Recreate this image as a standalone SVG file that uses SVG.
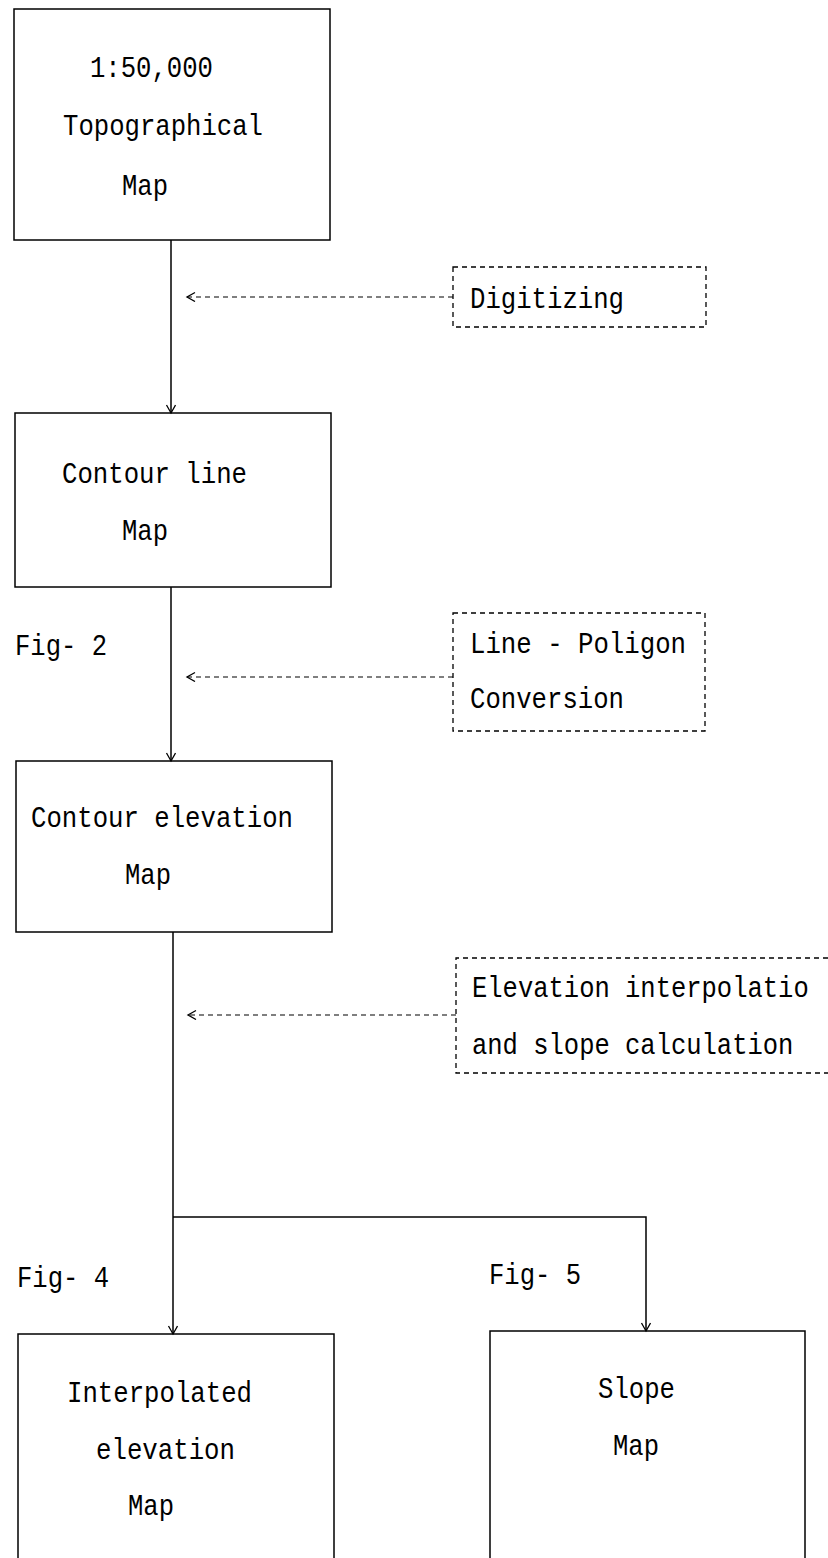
<svg xmlns="http://www.w3.org/2000/svg" width="828" height="1558" viewBox="0 0 828 1558">
<style>
.box{fill:none;stroke:#000;stroke-width:1.5}
.dbox{fill:none;stroke:#000;stroke-width:1.3;stroke-dasharray:5 4}
.ln{fill:none;stroke:#000;stroke-width:1.5}
.dln{fill:none;stroke:#000;stroke-width:1.2;stroke-dasharray:5 4}
.t{font-family:"Liberation Mono","DejaVu Sans Mono",monospace;font-size:29px;fill:#000}
</style>
<defs>
<marker id="ah" markerUnits="userSpaceOnUse" markerWidth="12" markerHeight="12" refX="9" refY="5" orient="auto">
<path d="M1,0.5 L9,5 L1,9.5" fill="none" stroke="#000" stroke-width="1.3"/>
</marker>
</defs>
<rect width="828" height="1558" fill="#fff"/>
<g id="connectors">
<line class="ln" x1="171" y1="240" x2="171" y2="413" marker-end="url(#ah)"/>
<line class="ln" x1="171" y1="587" x2="171" y2="761" marker-end="url(#ah)"/>
<line class="ln" x1="173" y1="932" x2="173" y2="1334" marker-end="url(#ah)"/>
<polyline class="ln" points="173,1217 646,1217 646,1331" marker-end="url(#ah)"/>
<line class="dln" x1="453" y1="297" x2="187" y2="297" marker-end="url(#ah)"/>
<line class="dln" x1="453" y1="677" x2="187" y2="677" marker-end="url(#ah)"/>
<line class="dln" x1="456" y1="1015" x2="188" y2="1015" marker-end="url(#ah)"/>
</g>
<g id="topo">
<rect class="box" x="14" y="9" width="316" height="231"/>
<text class="t" x="90" y="77" textLength="123" lengthAdjust="spacingAndGlyphs">1:50,000</text>
<text class="t" x="63" y="135" textLength="200" lengthAdjust="spacingAndGlyphs">Topographical</text>
<text class="t" x="122" y="195" textLength="46" lengthAdjust="spacingAndGlyphs">Map</text>
</g>
<g id="digitizing">
<rect class="dbox" x="453" y="267" width="253" height="60"/>
<text class="t" x="470" y="308" textLength="154" lengthAdjust="spacingAndGlyphs">Digitizing</text>
</g>
<g id="contourline">
<rect class="box" x="15" y="413" width="316" height="174"/>
<text class="t" x="62" y="483" textLength="185" lengthAdjust="spacingAndGlyphs">Contour line</text>
<text class="t" x="122" y="540" textLength="46" lengthAdjust="spacingAndGlyphs">Map</text>
</g>
<g id="fig2">
<text class="t" x="15" y="655" textLength="92" lengthAdjust="spacingAndGlyphs">Fig- 2</text>
</g>
<g id="linepoligon">
<rect class="dbox" x="453" y="613" width="252" height="118"/>
<text class="t" x="470" y="653" textLength="216" lengthAdjust="spacingAndGlyphs">Line - Poligon</text>
<text class="t" x="470" y="708" textLength="154" lengthAdjust="spacingAndGlyphs">Conversion</text>
</g>
<g id="contourelev">
<rect class="box" x="16" y="761" width="316" height="171"/>
<text class="t" x="31" y="827" textLength="262" lengthAdjust="spacingAndGlyphs">Contour elevation</text>
<text class="t" x="125" y="884" textLength="46" lengthAdjust="spacingAndGlyphs">Map</text>
</g>
<g id="elevinterp">
<path class="dbox" d="M828,958 H456 V1073 H828"/>
<g transform="translate(472,0) scale(0.88,1)">
<text class="t" x="0" y="997">Elevation interpolatio</text>
<text class="t" x="0" y="1054">and slope calculation</text>
</g>
</g>
<g id="fig4">
<text class="t" x="17" y="1287" textLength="92" lengthAdjust="spacingAndGlyphs">Fig- 4</text>
</g>
<g id="fig5">
<text class="t" x="489" y="1284" textLength="92" lengthAdjust="spacingAndGlyphs">Fig- 5</text>
</g>
<g id="interpolated">
<polyline class="box" points="18,1558 18,1334 334,1334 334,1558"/>
<text class="t" x="67" y="1402" textLength="185" lengthAdjust="spacingAndGlyphs">Interpolated</text>
<text class="t" x="96" y="1459" textLength="139" lengthAdjust="spacingAndGlyphs">elevation</text>
<text class="t" x="128" y="1515" textLength="46" lengthAdjust="spacingAndGlyphs">Map</text>
</g>
<g id="slope">
<polyline class="box" points="490,1558 490,1331 805,1331 805,1558"/>
<text class="t" x="598" y="1398" textLength="77" lengthAdjust="spacingAndGlyphs">Slope</text>
<text class="t" x="613" y="1455" textLength="46" lengthAdjust="spacingAndGlyphs">Map</text>
</g>
</svg>
